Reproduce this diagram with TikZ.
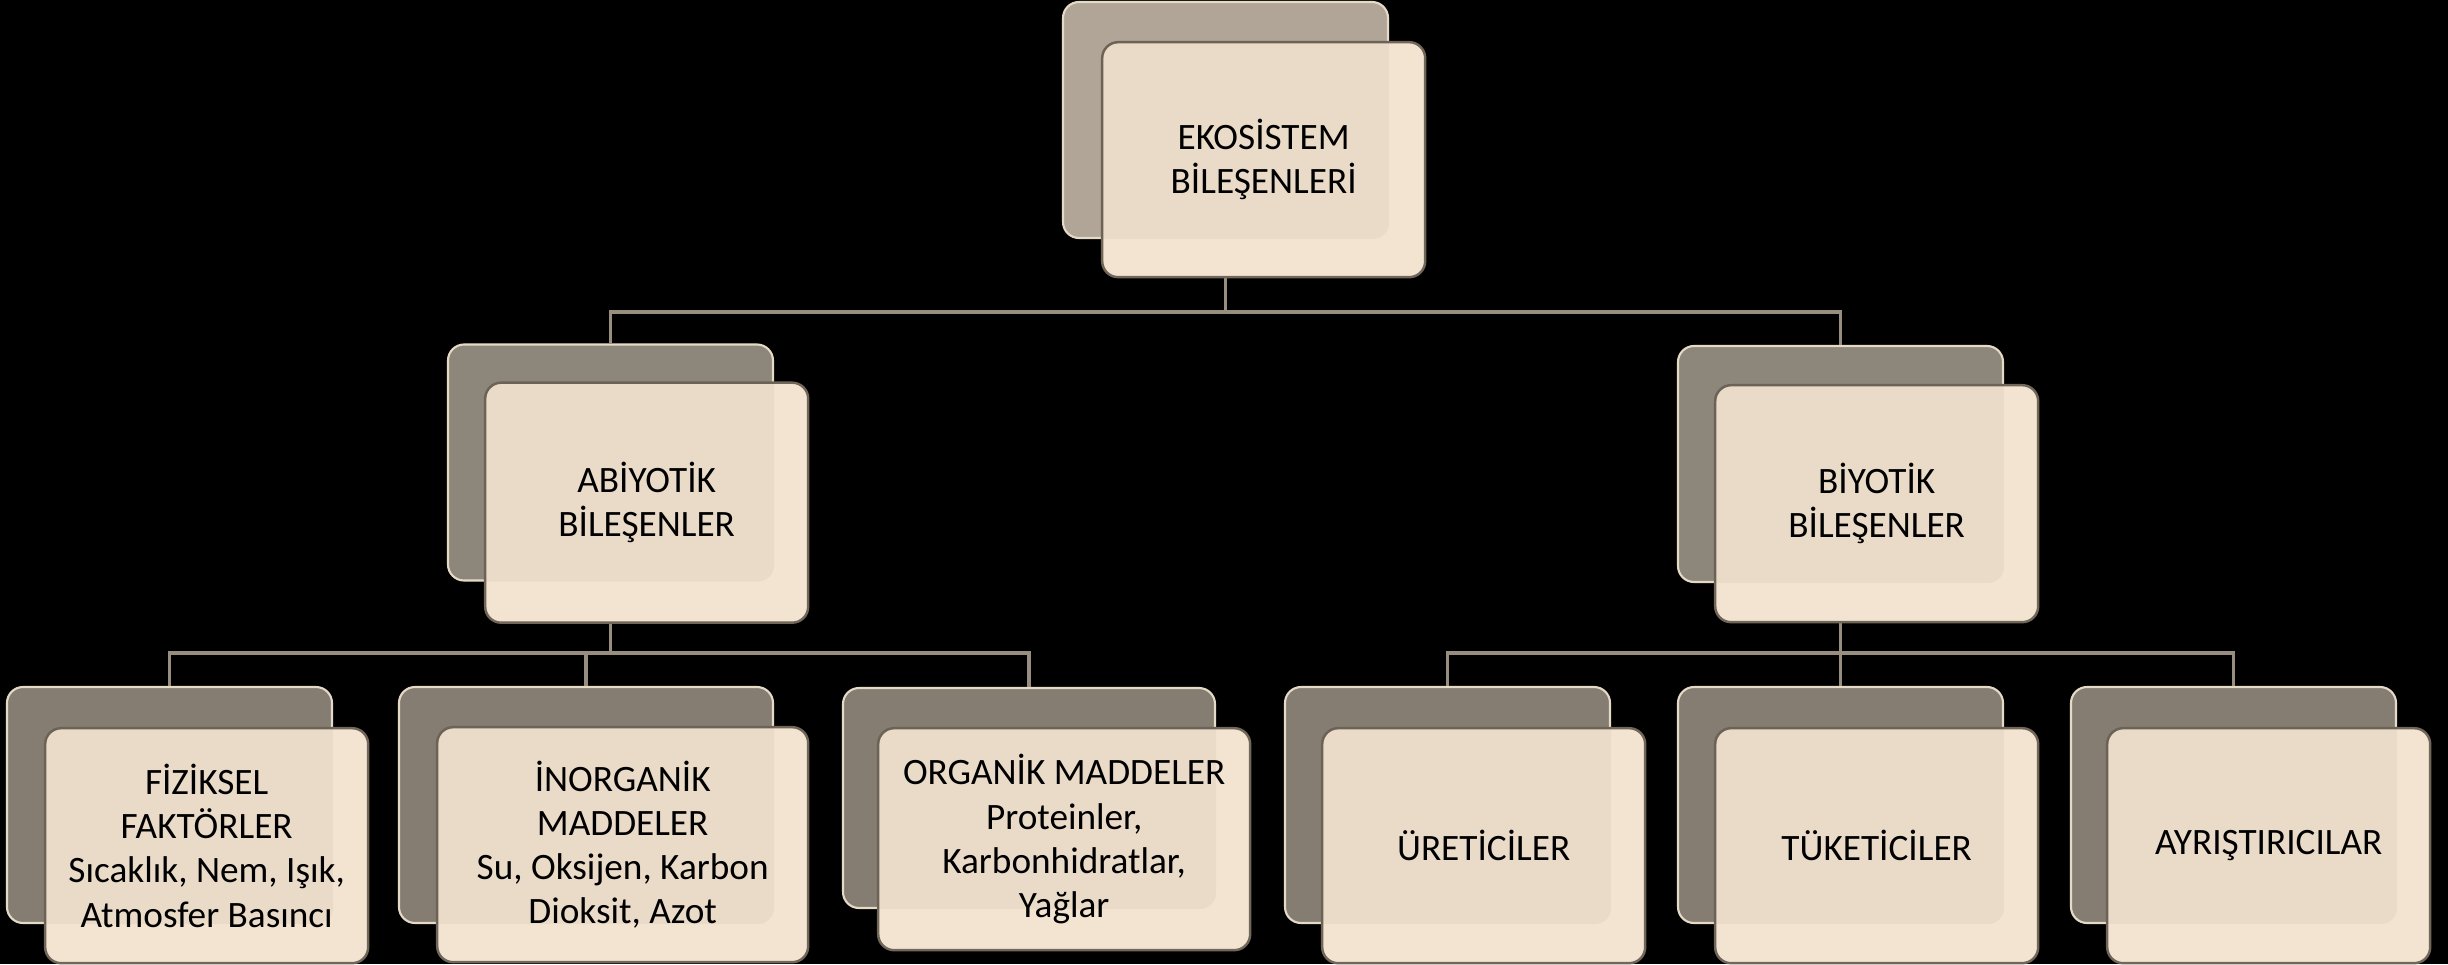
\documentclass[tikz,border=0pt]{standalone}
\usepackage{fontspec}
\setmainfont{Carlito}
\usetikzlibrary{positioning}
\definecolor{backtop}{RGB}{184,172,157}
\definecolor{backmid}{RGB}{147,139,127}
\definecolor{backlow}{RGB}{138,130,118}
\definecolor{cardfill}{RGB}{243,228,209}
\definecolor{rimlight}{RGB}{238,226,206}
\definecolor{rimdark}{RGB}{112,102,90}
\definecolor{linkcol}{RGB}{152,142,128}

\begin{document}
\begin{tikzpicture}[x=1cm, y=-1cm,
  back/.style={draw=rimlight, line width=0.6pt, rounded corners=0.16cm,
    minimum width=3.25cm, minimum height=2.36cm, inner sep=0pt},
  card/.style={draw=rimdark, fill=cardfill, line width=0.7pt, rounded corners=0.16cm,
    minimum width=3.23cm, minimum height=2.35cm, inner sep=0pt, anchor=north west,
    align=center, font=\fontsize{10.6}{12.6}\selectfont},
  link/.style={draw=linkcol, line width=0.9pt}]
  \fill[black] (0,0) rectangle (24.48,9.64);
  \useasboundingbox (0,0) rectangle (24.48,9.64);

  % back panels
  \node[back, fill=backtop] (eko) at (12.255,1.20) {};
  \node[back, fill=backmid] (abiyotik) at (6.105,4.625) {};
  \node[back, fill=backmid] (biyotik) at (18.405,4.64) {};
  \node[back, fill=backlow] (fiziksel) at (1.695,8.05) {};
  \node[back, fill=backlow, minimum width=3.74cm] (inorganik) at (5.86,8.05) {};
  \node[back, fill=backlow, minimum width=3.72cm, minimum height=2.20cm] (organik) at (10.29,7.98) {};
  \node[back, fill=backlow] (uretici) at (14.475,8.05) {};
  \node[back, fill=backlow] (tuketici) at (18.405,8.05) {};
  \node[back, fill=backlow] (ayristirici) at (22.335,8.05) {};

  % tree lines
  \coordinate (bar1) at (0,3.12);
  \coordinate (bar2) at (0,6.53);
  \foreach \child in {abiyotik,biyotik}
    \draw[link] (eko.south) |- (bar1 -| \child.north) -- (\child.north);
  \foreach \child in {fiziksel,inorganik,organik}
    \draw[link] (abiyotik.south) |- (bar2 -| \child.north) -- (\child.north);
  \foreach \child in {uretici,tuketici,ayristirici}
    \draw[link] (biyotik.south) |- (bar2 -| \child.north) -- (\child.north);

  % front cards
  \node[card] (ekoT) at ([shift={(0.39,0.40)}]eko.north west) {EKOSİSTEM\\BİLEŞENLERİ};
  \node[card, minimum height=2.40cm] (abiyotikT) at ([shift={(0.37,0.38)}]abiyotik.north west) {ABİYOTİK\\BİLEŞENLER};
  \node[card, minimum height=2.37cm] (biyotikT) at ([shift={(0.37,0.39)}]biyotik.north west) {BİYOTİK\\BİLEŞENLER};
  \node[card] (fizikselT) at ([shift={(0.38,0.41)}]fiziksel.north west)
    {FİZİKSEL\\FAKTÖRLER\\Sıcaklık, Nem, Işık,\\Atmosfer Basıncı};
  \node[card, minimum width=3.71cm] (inorganikT) at ([shift={(0.38,0.40)}]inorganik.north west)
    {İNORGANİK\\MADDELER\\Su, Oksijen, Karbon\\Dioksit, Azot};
  \node[card, minimum width=3.72cm, minimum height=2.22cm] (organikT) at ([shift={(0.35,0.40)}]organik.north west)
    {ORGANİK MADDELER\\Proteinler,\\Karbonhidratlar,\\Yağlar};
  \node[card] (ureticiT) at ([shift={(0.37,0.41)}]uretici.north west) {ÜRETİCİLER};
  \node[card] (tuketiciT) at ([shift={(0.37,0.41)}]tuketici.north west) {TÜKETİCİLER};
  \node[card] (ayristiriciT) at ([shift={(0.36,0.41)}]ayristirici.north west) {AYRIŞTIRICILAR};

  % panel seen through the cards
  \foreach \n in {eko,abiyotik,biyotik,fiziksel,inorganik,organik,uretici,tuketici,ayristirici}
    \fill[black, opacity=0.035, rounded corners=0.16cm] (\n.north west) rectangle (\n.south east);
\end{tikzpicture}
\end{document}
